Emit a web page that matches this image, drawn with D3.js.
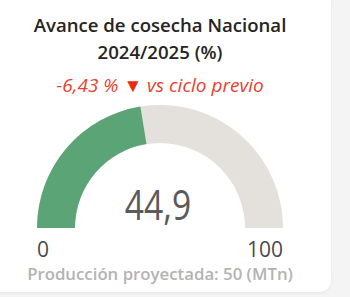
<!DOCTYPE html>
<html>
<head>
    <script src="https://cdn.jsdelivr.net/npm/d3@7"></script>
</head>

<style>
    body { margin: 0; background: #f4f4f4; }
    text { font-family: "Open Sans", "Noto Sans", sans-serif; }
</style>

<body>
<div id="chart"></div>

<script>

    // data
    var titleLines = ['Avance de cosecha Nacional', '2024/2025 (%)'];
    var value = 44.9;
    var minValue = 0;
    var maxValue = 100;
    var deltaPct = -6.43;
    var deltaLabel = 'vs ciclo previo';
    var projected = 50;

    var width = 350, height = 297;
    var cx = 160, cy = 228;
    var outerR = 123, innerR = 85;

    // comma decimals, plain hyphen for negatives
    var fmt = function(v, d) {
        return d3.format('.' + d + 'f')(v).replace('.', ',').replace('\u2212', '-');
    };

    var svg = d3.select('#chart').append('svg')
        .attr('width', width)
        .attr('height', height);

    var defs = svg.append('defs');
    var shadow = defs.append('filter').attr('id', 'shadow')
        .attr('x', '-10%').attr('y', '-10%').attr('width', '120%').attr('height', '120%');
    shadow.append('feDropShadow')
        .attr('dx', 0).attr('dy', 1).attr('stdDeviation', 1.5)
        .attr('flood-color', '#000').attr('flood-opacity', 0.06);

    // card
    svg.append('rect')
        .attr('x', -12).attr('y', -12)
        .attr('width', 343).attr('height', 304)
        .attr('rx', 12)
        .attr('fill', 'white')
        .attr('filter', 'url(#shadow)');

    // title
    svg.selectAll('text.title')
        .data(titleLines)
        .enter()
        .append('text')
        .attr('class', 'title')
        .attr('x', cx)
        .attr('y', function(d, i) { return 32 + i * 27; })
        .attr('text-anchor', 'middle')
        .attr('font-size', 18.6)
        .attr('font-weight', 600)
        .attr('fill', '#252423')
        .text(function(d) { return d; });

    // change vs previous cycle
    var sub = svg.append('text')
        .attr('x', cx)
        .attr('y', 92)
        .attr('text-anchor', 'middle')
        .attr('font-size', 19)
        .attr('font-style', 'italic')
        .attr('fill', '#e8402e');
    sub.append('tspan').text(fmt(deltaPct, 2) + ' % ');
    sub.append('tspan').attr('font-style', 'normal').attr('fill', '#ee2a0e')
        .text(deltaPct < 0 ? '\u25BC' : '\u25B2');
    sub.append('tspan').text(' ' + deltaLabel);

    // gauge
    var angle = d3.scaleLinear()
        .domain([minValue, maxValue])
        .range([-Math.PI / 2, Math.PI / 2]);

    var arc = d3.arc()
        .innerRadius(innerR)
        .outerRadius(outerR);

    var g = svg.append('g')
        .attr('transform', 'translate(' + cx + ',' + cy + ')');

    g.append('path')
        .attr('d', arc({ startAngle: angle(minValue), endAngle: angle(maxValue) }))
        .attr('fill', '#e4e0db');

    g.append('path')
        .attr('d', arc({ startAngle: angle(minValue), endAngle: angle(value) }))
        .attr('fill', '#5aa476');

    // value (condensed look)
    svg.append('text')
        .attr('transform', 'translate(' + (cx - 2) + ',220) scale(0.8,1)')
        .attr('text-anchor', 'middle')
        .attr('font-family', 'Roboto, sans-serif')
        .attr('font-size', 42)
        .attr('fill', '#5a5a5a')
        .text(fmt(value, 1));

    // min / max labels
    svg.append('text')
        .attr('x', cx - outerR)
        .attr('y', 257)
        .attr('font-size', 21)
        .attr('fill', '#4a4a4a')
        .text(minValue);

    svg.append('text')
        .attr('x', cx + outerR)
        .attr('y', 257)
        .attr('text-anchor', 'end')
        .attr('font-size', 21)
        .attr('fill', '#4a4a4a')
        .text(maxValue);

    // footer
    svg.append('text')
        .attr('x', cx)
        .attr('y', 280)
        .attr('text-anchor', 'middle')
        .attr('font-size', 16.8)
        .attr('font-weight', 600)
        .attr('fill', '#b3b3b3')
        .text('Producción proyectada: ' + projected + ' (MTn)');

</script>
</body>
</html>
